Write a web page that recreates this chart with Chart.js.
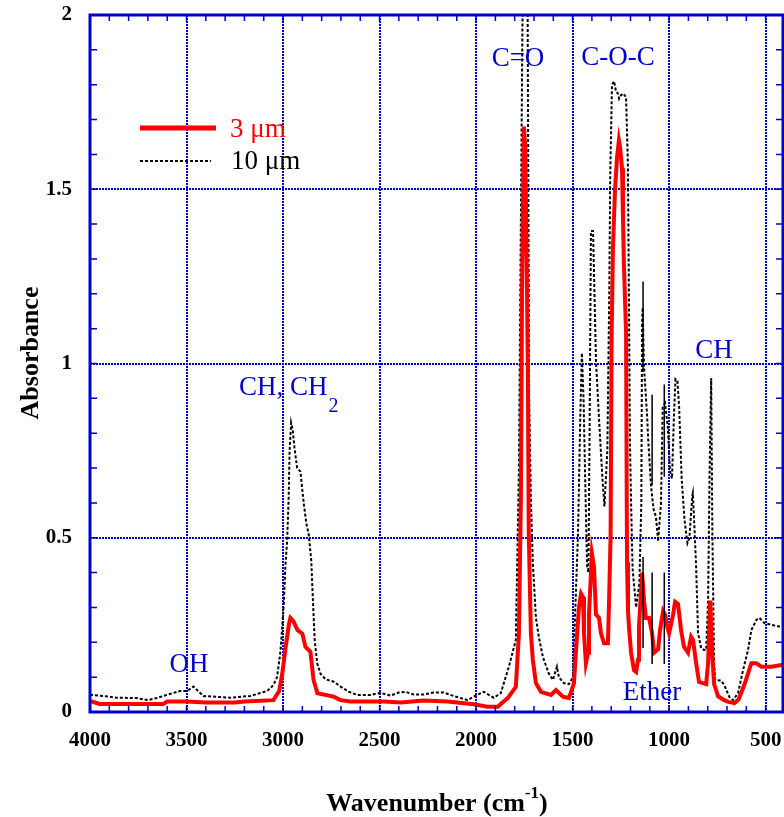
<!DOCTYPE html>
<html>
<head>
<meta charset="utf-8">
<script src="https://cdn.jsdelivr.net/npm/chart.js@4.4.1/dist/chart.umd.min.js"></script>
<style>
  html, body { margin: 0; padding: 0; background: #fff; }
  #wrap { width: 784px; height: 817px; }
</style>
</head>
<body>
<div id="wrap"><canvas id="spectrum" width="784" height="817"></canvas></div>
<script>
//#  Spectrum data: wavenumber (cm-1) and absorbance
const wn3 = [
  4000, 3990, 3950, 3700, 3620, 3600, 3500, 3400, 3250, 3200,
  3050, 3020, 3004, 2988, 2970, 2962, 2946, 2925, 2900, 2884,
  2858, 2842, 2822, 2738, 2702, 2650, 2478, 2390, 2272, 2148,
  2012, 1941, 1888, 1836, 1794, 1778, 1768, 1762, 1752, 1745,
  1738, 1732, 1727, 1716, 1706, 1690, 1664, 1612, 1586, 1550,
  1519, 1493, 1483, 1467, 1456, 1446, 1441, 1431, 1420, 1415,
  1400, 1389, 1379, 1363, 1353, 1337, 1317, 1311, 1303, 1298,
  1291, 1280, 1270, 1260, 1254, 1244, 1239, 1234, 1223, 1218,
  1213, 1208, 1197, 1182, 1171, 1161, 1156, 1140, 1130, 1120,
  1104, 1088, 1078, 1057, 1047, 1031, 1021, 1010, 1000, 979,
  969, 954, 938, 923, 902, 886, 876, 860, 845, 808,
  798, 787, 777, 767, 746, 714, 694, 672, 663, 643,
  637, 607, 574, 548, 522, 470, 418, 400,
];
const abs3 = [
  0.030, 0.030, 0.023, 0.023, 0.023, 0.030, 0.030, 0.027, 0.027, 0.030,
  0.034, 0.060, 0.110, 0.180, 0.250, 0.270, 0.260, 0.235, 0.225, 0.187,
  0.173, 0.092, 0.054, 0.044, 0.034, 0.030, 0.030, 0.027, 0.033, 0.030,
  0.022, 0.015, 0.015, 0.040, 0.072, 0.226, 0.608, 1.20, 1.68, 1.62,
  1.30, 1.00, 0.510, 0.226, 0.150, 0.083, 0.058, 0.049, 0.063, 0.044,
  0.040, 0.082, 0.170, 0.300, 0.340, 0.330, 0.226, 0.140, 0.170, 0.280,
  0.455, 0.416, 0.280, 0.270, 0.226, 0.197, 0.197, 0.320, 0.510, 1.07,
  1.33, 1.50, 1.59, 1.64, 1.62, 1.56, 1.42, 1.28, 1.09, 0.430,
  0.290, 0.245, 0.170, 0.120, 0.115, 0.150, 0.245, 0.400, 0.320, 0.270,
  0.270, 0.226, 0.170, 0.180, 0.235, 0.290, 0.280, 0.245, 0.226, 0.280,
  0.316, 0.310, 0.235, 0.187, 0.170, 0.216, 0.207, 0.140, 0.086, 0.080,
  0.140, 0.320, 0.170, 0.080, 0.045, 0.034, 0.029, 0.027, 0.025, 0.034,
  0.040, 0.083, 0.140, 0.140, 0.130, 0.130, 0.135, 0.135,
];

const wn10 = [
  4000, 3990, 3930, 3860, 3760, 3700, 3655, 3585, 3535, 3498,
  3464, 3440, 3413, 3273, 3170, 3083, 3050, 3031, 3014, 2997,
  2988, 2979, 2971, 2966, 2958, 2950, 2941, 2927, 2910, 2893,
  2879, 2867, 2854, 2846, 2836, 2823, 2806, 2780, 2737, 2702,
  2659, 2616, 2547, 2495, 2443, 2400, 2365, 2323, 2271, 2220,
  2168, 2116, 2044, 1992, 1960, 1908, 1872, 1830, 1794, 1778,
  1768, 1759, 1746, 1733, 1725, 1716, 1706, 1690, 1675, 1654,
  1623, 1602, 1581, 1571, 1545, 1519, 1498, 1493, 1472, 1460,
  1452, 1443, 1436, 1425, 1418, 1412, 1405, 1394, 1389, 1379,
  1362, 1345, 1335, 1320, 1310, 1305, 1296, 1285, 1275, 1265,
  1259, 1249, 1239, 1223, 1213, 1208, 1203, 1197, 1189, 1171,
  1154, 1144, 1140, 1137, 1130, 1114, 1108, 1094, 1080, 1068,
  1057, 1042, 1033, 1021, 1007, 995, 985, 975, 967, 957,
  948, 935, 920, 905, 895, 880, 877, 868, 860, 850,
  834, 819, 808, 798, 790, 782, 776, 767, 761, 730,
  714, 688, 669, 643, 617, 591, 574, 548, 532, 506,
  470, 418, 400,
];
const abs10 = [
  0.050, 0.049, 0.046, 0.041, 0.040, 0.034, 0.040, 0.052, 0.060, 0.060,
  0.073, 0.060, 0.046, 0.041, 0.046, 0.060, 0.077, 0.100, 0.170, 0.300,
  0.417, 0.490, 0.610, 0.750, 0.830, 0.810, 0.760, 0.700, 0.690, 0.600,
  0.540, 0.510, 0.436, 0.330, 0.207, 0.140, 0.110, 0.094, 0.087, 0.073,
  0.058, 0.049, 0.049, 0.055, 0.047, 0.056, 0.058, 0.050, 0.050, 0.056,
  0.056, 0.046, 0.034, 0.050, 0.058, 0.041, 0.054, 0.130, 0.207, 0.700,
  1.40, 2.02, 2.15, 2.02, 0.900, 0.610, 0.430, 0.270, 0.216, 0.158,
  0.110, 0.092, 0.130, 0.100, 0.083, 0.080, 0.100, 0.187, 0.510, 0.850,
  1.03, 0.895, 0.700, 0.420, 0.400, 0.800, 1.38, 1.38, 1.26, 1.01,
  0.830, 0.666, 0.590, 0.750, 1.20, 1.54, 1.80, 1.81, 1.78, 1.775,
  1.76, 1.77, 1.775, 1.765, 1.56, 1.18, 0.780, 0.600, 0.410, 0.300,
  0.370, 0.600, 1.11, 1.16, 0.990, 0.850, 0.780, 0.650, 0.580, 0.560,
  0.490, 0.600, 0.875, 0.886, 0.820, 0.690, 0.670, 0.850, 0.955, 0.950,
  0.875, 0.670, 0.550, 0.485, 0.500, 0.620, 0.628, 0.520, 0.416, 0.226,
  0.183, 0.178, 0.178, 0.320, 0.700, 0.958, 0.520, 0.140, 0.092, 0.090,
  0.077, 0.043, 0.034, 0.054, 0.120, 0.178, 0.235, 0.264, 0.270, 0.255,
  0.250, 0.244, 0.244,
];

// thin solid vertical markers in the ether band (lower and upper pieces)
const markerWn = [1135, 1088, 1025];
const markerLowFrom = [0.184, 0.138, 0.138];
const markerLowTo = [0.445, 0.400, 0.400];
const markerHighFrom = [0.976, 0.650, 0.675];
const markerHighTo = [1.235, 0.910, 0.940];

// labelled ticks
const xLabels = [4000, 3500, 3000, 2500, 2000, 1500, 1000, 500];
const yLabels = [0, 0.5, 1, 1.5, 2];

const BLUE = "#0000cc";
const SERIF = "'Liberation Serif', 'Times New Roman', serif";

// minor x ticks every 100 cm-1
const xTicks = [];
for (let v = 500; v <= 4000; v += 100) xTicks.push(v);

const toPoints = (xs, ys) => xs.map((v, i) => ({ x: v, y: ys[i] }));

const markerPoints = [];
markerWn.forEach((w, i) => {
  markerPoints.push({ x: w, y: markerLowFrom[i] }, { x: w, y: markerLowTo[i] }, { x: w, y: null });
  markerPoints.push({ x: w, y: markerHighFrom[i] }, { x: w, y: markerHighTo[i] }, { x: w, y: null });
});

const isYLabel = (v) => yLabels.some((l) => Math.abs(l - v) < 1e-6);

//#  Frame, inward ticks, legend, band names and axis titles
const decor = {
  id: "decor",
  afterDatasetsDraw(chart) {
    const { ctx, chartArea: a, scales } = chart;
    const x = scales.x;
    const y = scales.y;
    ctx.save();

    ctx.strokeStyle = BLUE;
    ctx.lineWidth = 1.5;
    ctx.beginPath();
    x.ticks.forEach((t) => {
      const px = x.getPixelForValue(t.value);
      ctx.moveTo(px, a.bottom);
      ctx.lineTo(px, a.bottom - 6);
      ctx.moveTo(px, a.top);
      ctx.lineTo(px, a.top + 6);
    });
    y.ticks.forEach((t) => {
      const py = y.getPixelForValue(t.value);
      ctx.moveTo(a.left, py);
      ctx.lineTo(a.left + 7, py);
      ctx.moveTo(a.right, py);
      ctx.lineTo(a.right - 7, py);
    });
    ctx.stroke();

    ctx.lineWidth = 3;
    ctx.strokeRect(a.left, a.top, a.right - a.left, a.bottom - a.top);

    // legend
    ctx.lineWidth = 5;
    ctx.strokeStyle = "#ff0000";
    ctx.beginPath();
    ctx.moveTo(140, 128);
    ctx.lineTo(216, 128);
    ctx.stroke();
    ctx.lineWidth = 2;
    ctx.strokeStyle = "#000";
    ctx.setLineDash([3, 2]);
    ctx.beginPath();
    ctx.moveTo(140, 161);
    ctx.lineTo(211, 161);
    ctx.stroke();
    ctx.setLineDash([]);

    ctx.font = `27px ${SERIF}`;
    ctx.textBaseline = "alphabetic";
    ctx.textAlign = "left";
    ctx.fillStyle = "#ff0000";
    ctx.fillText("3 \u03bcm", 230, 137);
    ctx.fillStyle = "#000";
    ctx.fillText("10 \u03bcm", 231, 169);

    // band names
    ctx.fillStyle = BLUE;
    ctx.textAlign = "center";
    ctx.fillText("C=O", 518, 66);
    ctx.fillText("C-O-C", 618, 65);
    ctx.fillText("CH", 714, 358);
    ctx.fillText("OH", 189, 672);
    ctx.fillText("Ether", 652, 700);
    ctx.textAlign = "left";
    ctx.fillText("CH, CH", 239, 395);
    const chW = ctx.measureText("CH, CH").width;
    ctx.font = `20px ${SERIF}`;
    ctx.fillText("2", 239 + chW + 1, 412);

    // axis titles
    ctx.fillStyle = "#000";
    const big = `bold 26px ${SERIF}`;
    const small = `bold 17px ${SERIF}`;
    ctx.font = big;
    const w1 = ctx.measureText("Wavenumber (cm").width;
    const w3 = ctx.measureText(")").width;
    ctx.font = small;
    const w2 = ctx.measureText("-1").width;
    let sx = 437 - (w1 + w2 + w3) / 2;
    ctx.font = big;
    ctx.fillText("Wavenumber (cm", sx, 811);
    ctx.font = small;
    ctx.fillText("-1", sx + w1, 798);
    ctx.font = big;
    ctx.fillText(")", sx + w1 + w2, 811);

    ctx.translate(38, 353);
    ctx.rotate(-Math.PI / 2);
    ctx.textAlign = "center";
    ctx.fillText("Absorbance", 0, 0);

    ctx.restore();
  },
};

//#  Chart
const ctx = document.getElementById("spectrum").getContext("2d");
new Chart(ctx, {
  type: "line",
  data: {
    datasets: [
      {
        label: "markers",
        data: markerPoints,
        borderColor: "#000",
        borderWidth: 1.5,
        pointRadius: 0,
        spanGaps: false,
      },
      {
        label: "3 \u03bcm",
        data: toPoints(wn3, abs3),
        borderColor: "#ff0000",
        borderWidth: 4,
        pointRadius: 0,
        tension: 0,
      },
      {
        label: "10 \u03bcm",
        data: toPoints(wn10, abs10),
        borderColor: "#000",
        borderWidth: 2,
        borderDash: [3, 2],
        pointRadius: 0,
        tension: 0,
      },
    ],
  },
  options: {
    responsive: false,
    animation: false,
    layout: { padding: { top: 15, right: 1, bottom: 0, left: 0 } },
    plugins: {
      legend: { display: false },
      tooltip: { enabled: false },
    },
    scales: {
      x: {
        type: "linear",
        reverse: true,
        min: 410,
        max: 4000,
        afterBuildTicks: (s) => {
          s.ticks = xTicks.map((v) => ({ value: v }));
        },
        afterFit: (s) => {
          s.height = 105;
          s.paddingLeft = 0;
          s.paddingRight = 0;
        },
        grid: {
          color: (c) => (c.tick && xLabels.includes(c.tick.value) ? BLUE : "transparent"),
          lineWidth: 2,
          drawTicks: false,
        },
        border: { display: false, dash: [2, 1] },
        ticks: {
          autoSkip: false,
          maxRotation: 0,
          padding: 16,
          color: "#000",
          font: { family: SERIF, size: 21, weight: "bold" },
          callback: (v) => (xLabels.includes(v) ? String(v) : ""),
        },
      },
      y: {
        min: 0,
        max: 2,
        afterFit: (s) => {
          s.width = 90;
          s.paddingTop = 0;
          s.paddingBottom = 0;
        },
        grid: {
          color: (c) => (c.tick && isYLabel(c.tick.value) ? BLUE : "transparent"),
          lineWidth: 2,
          drawTicks: false,
        },
        border: { display: false, dash: [2, 1] },
        ticks: {
          stepSize: 0.1,
          autoSkip: false,
          padding: 18,
          color: "#000",
          font: { family: SERIF, size: 21, weight: "bold" },
          callback: (v) => (isYLabel(v) ? String(Math.round(v * 10) / 10) : ""),
        },
      },
    },
  },
  plugins: [decor],
});
</script>
</body>
</html>
